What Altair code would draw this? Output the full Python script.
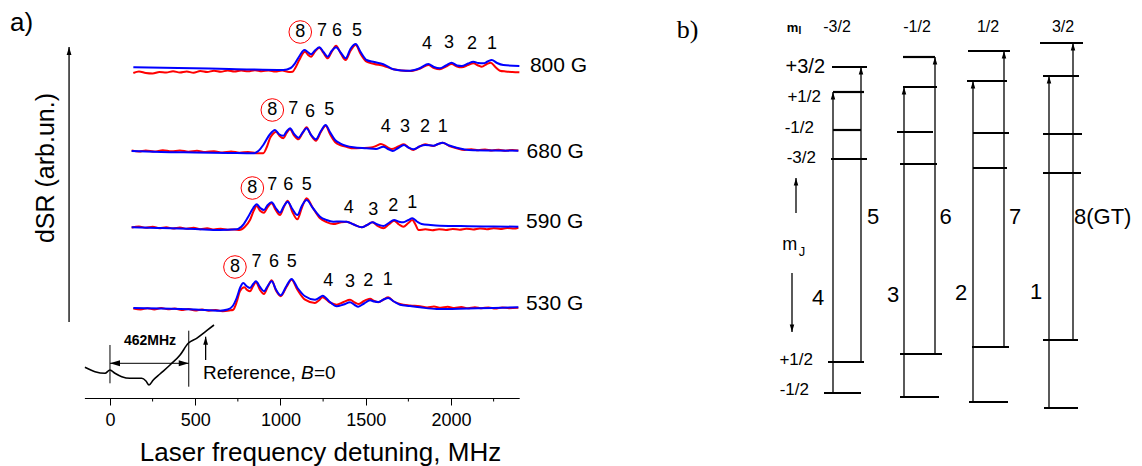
import altair as alt
import pandas as pd

FONT = "Liberation Sans"
SERIF = "Liberation Serif"
RED = "#ff0000"
BLUE = "#0000ff"

# ================= Panel a) : dSR spectra (x: detuning, MHz ; y: dSR, arb. units incl. vertical offset) =========
red_800 = [(137, 325), (170, 326.5), (210, 325), (250, 324.5), (290, 326), (330, 325.5), (370, 326.8), (410, 325.5),
           (450, 326.5), (490, 325.3), (530, 327), (570, 326), (610, 327.3), (650, 326.3), (690, 327.5), (730, 326.5),
           (770, 327.5), (810, 326.7), (850, 327.8), (890, 326.8), (930, 327.5), (970, 326.5), (1010, 327.5),
           (1050, 326), (1071, 326.3), (1090, 331), (1110, 338), (1144, 346.3), (1162, 343), (1179, 341.3),
           (1205, 347), (1228, 350.3), (1252, 345), (1277, 339.7), (1300, 346), (1326, 352.3), (1355, 344),
           (1382, 338), (1410, 347), (1441, 353), (1470, 344), (1505, 336.3), (1550, 334), (1603, 332.3),
           (1662, 328.7), (1710, 327.5), (1760, 327), (1820, 329.5), (1867, 333), (1900, 330), (1935, 328.7),
           (1970, 331.5), (2004, 334), (2035, 331.5), (2063, 330.7), (2100, 333), (2131, 334.7), (2160, 332.5),
           (2180, 331.3), (2210, 334), (2233, 335.3), (2260, 331), (2287, 327.3), (2320, 326.5), (2360, 326),
           (2401, 325.7)]
blue_800 = [(137, 330.7), (400, 330), (700, 329), (1017, 328), (1060, 330), (1085, 334.7), (1115, 343), (1140, 348),
            (1160, 346), (1179, 343.7), (1205, 348), (1228, 350.7), (1252, 346), (1277, 341.3), (1300, 347),
            (1326, 350.7), (1355, 345), (1382, 339.7), (1410, 349), (1441, 354), (1470, 346), (1505, 338),
            (1550, 336), (1603, 333.7), (1662, 328.7), (1710, 327.5), (1760, 327.3), (1820, 330), (1867, 334),
            (1900, 331), (1935, 329.7), (1970, 332.5), (2004, 335.3), (2035, 332.5), (2063, 332), (2100, 334.5),
            (2131, 336.3), (2160, 335), (2190, 334.7), (2215, 336.5), (2239, 338), (2270, 335), (2307, 333),
            (2401, 332)]

red_680 = [(127, 247.5), (170, 246.5), (210, 247.5), (260, 246.5), (310, 247.8), (360, 246.7), (410, 247.5),
           (460, 246.3), (510, 247.3), (560, 246), (610, 246.8), (660, 245.5), (710, 246.5), (760, 245.3),
           (810, 246), (860, 244.8), (899, 244.7), (920, 251), (938, 259.7), (955, 264), (974, 266.3), (995, 262),
           (1017, 259.7), (1036, 265), (1056, 268.7), (1080, 262.5), (1105, 258.7), (1130, 265), (1153, 270.7),
           (1180, 262.5), (1208, 257.3), (1237, 266), (1265, 272.3), (1290, 264), (1320, 256), (1349, 253),
           (1390, 251), (1427, 249.7), (1480, 250), (1530, 250.5), (1560, 252), (1589, 254), (1620, 251.5),
           (1652, 249), (1690, 251.5), (1724, 253.7), (1750, 250.5), (1779, 248), (1815, 251.5), (1848, 253.7),
           (1896, 252), (1925, 254), (1951, 255.3), (1990, 252), (2033, 249.7), (2080, 248), (2120, 248.8),
           (2160, 247.8), (2200, 248.5), (2240, 247.5), (2280, 248.3), (2320, 247.3), (2360, 248), (2395, 247.5)]
blue_680 = [(127, 247), (300, 246), (500, 245.5), (700, 245), (841, 244.7), (870, 247), (899, 253), (935, 263),
            (968, 268), (990, 264), (1017, 262.3), (1036, 266.5), (1056, 269.7), (1080, 264), (1105, 260.3),
            (1130, 265.5), (1153, 269.7), (1180, 263), (1208, 258.7), (1237, 267), (1265, 273), (1290, 266),
            (1320, 258), (1349, 254.7), (1427, 250.7), (1505, 249.7), (1560, 249), (1603, 251.3), (1630, 249),
            (1658, 247), (1690, 250), (1724, 253), (1750, 250.5), (1779, 248.7), (1815, 251.5), (1848, 253),
            (1896, 252.3), (1925, 254), (1951, 255.3), (1990, 252.5), (2033, 250.3), (2080, 248.5), (2131, 247.7),
            (2250, 247.5), (2395, 247.3)]

red_590 = [(127, 170.5), (170, 171.5), (210, 170.3), (250, 171.3), (290, 169.8), (330, 170.8), (370, 169.5),
           (410, 170.5), (450, 169.3), (490, 170.3), (530, 168.8), (570, 169.7), (610, 168.5), (650, 169.3),
           (690, 168.3), (730, 168.5), (760, 168), (790, 171), (821, 178), (845, 188), (860, 192), (882, 187),
           (903, 185.3), (925, 191), (948, 194.7), (972, 188), (997, 183), (1020, 191), (1042, 197.3), (1070, 186),
           (1099, 178.7), (1125, 190), (1153, 199.7), (1190, 190), (1232, 179.7), (1270, 176), (1310, 174),
           (1350, 175.5), (1388, 176.3), (1430, 173.5), (1476, 170.7), (1508, 173), (1539, 175.7), (1570, 172),
           (1603, 169.7), (1635, 173.5), (1666, 177.3), (1695, 173.5), (1720, 171.3), (1750, 175), (1773, 178),
           (1790, 174), (1810, 168), (1850, 168.7), (1890, 167.8), (1930, 168.8), (1970, 168), (2010, 169),
           (2050, 168.3), (2090, 169.3), (2130, 168.5), (2170, 169.5), (2210, 168.8), (2250, 169.8), (2290, 169),
           (2330, 170), (2370, 169.5), (2395, 170.3)]
blue_590 = [(127, 170.7), (300, 170), (500, 169), (645, 168), (743, 168.7), (780, 173), (811, 181.3), (840, 190),
            (860, 193.7), (882, 190), (903, 188), (925, 193), (948, 195.7), (972, 190), (997, 185.3), (1020, 192),
            (1042, 196.3), (1070, 189), (1099, 183), (1125, 192), (1153, 198), (1190, 190), (1232, 181.3),
            (1270, 178), (1310, 176.3), (1350, 176.5), (1388, 176.3), (1430, 173.5), (1476, 170.7), (1508, 173),
            (1539, 175.7), (1570, 173.5), (1603, 172), (1635, 175), (1666, 178), (1695, 176.3), (1720, 175.7),
            (1750, 178), (1773, 179.7), (1800, 176.5), (1828, 174), (1880, 173), (1935, 172.3), (2100, 171.8),
            (2250, 171.5), (2395, 171.3)]

red_530 = [(137, 89.5), (180, 88.5), (220, 89.8), (260, 88.5), (300, 90), (340, 88.7), (380, 89.5), (420, 88),
           (460, 89), (500, 87.5), (540, 88.5), (580, 87.3), (620, 88), (660, 86.8), (700, 87.5), (723, 88.3),
           (745, 97), (762, 106.7), (788, 110.7), (805, 108), (821, 106.7), (840, 112), (856, 115.7), (880, 108),
           (903, 104), (925, 111), (948, 117.7), (975, 107), (1001, 101.7), (1035, 111), (1065, 118.3), (1100, 108),
           (1144, 98.3), (1202, 95), (1225, 97.5), (1247, 100.7), (1290, 95.5), (1329, 93.3), (1370, 96),
           (1408, 98.3), (1435, 95.5), (1456, 94), (1490, 97), (1525, 99.3), (1550, 97), (1574, 95.7), (1605, 98.5),
           (1632, 100.7), (1665, 96.5), (1701, 94), (1760, 92.5), (1818, 91.7), (1860, 90.5), (1900, 91.5),
           (1940, 90.3), (1980, 91.3), (2020, 90), (2060, 91), (2100, 89.8), (2140, 90.8), (2180, 89.7),
           (2220, 90.6), (2260, 89.5), (2300, 90.5), (2340, 89.8), (2395, 90.2)]
blue_530 = [(137, 90), (300, 89.5), (500, 88.5), (645, 87.3), (690, 88.5), (720, 92), (743, 100), (765, 111),
            (782, 115), (800, 112), (821, 110), (840, 114), (856, 116.7), (880, 111), (903, 106.7), (925, 112),
            (948, 116.7), (975, 108), (1001, 102.7), (1035, 112), (1065, 119), (1100, 110), (1144, 101.7),
            (1202, 98.3), (1225, 100), (1247, 102.3), (1290, 96), (1329, 91.7), (1370, 93.5), (1408, 95.7),
            (1435, 93), (1456, 91.3), (1490, 94.5), (1525, 97.7), (1550, 96.5), (1574, 96), (1605, 98.5),
            (1632, 100), (1665, 96.5), (1701, 93.3), (1760, 92), (1818, 90.7), (1916, 89), (2100, 89.5),
            (2250, 90), (2395, 90.7)]

# zero-field reference (saturated-absorption) trace
reference = [(-147, 30.7), (-88, 26.3), (-29, 24.7), (0, 28), (29, 24.7), (69, 21.3), (117, 19.7), (186, 19.7),
             (211, 17), (229, 13), (254, 18), (293, 24), (352, 33), (411, 43), (459, 54.7), (508, 59.7),
             (567, 67.3), (610, 73)]

field_labels = ["800 G", "680 G", "590 G", "530 G"]
field_label_x = [2463, 2443, 2440, 2440]
field_label_y = [332.5, 246.5, 176.5, 94]

peak_names = ["8", "7", "6", "5", "4", "3", "2", "1"]
peak_x_800 = [1116, 1243, 1331, 1449, 1859, 1988, 2123, 2240]
peak_y_800 = [366, 367, 367, 367, 354, 355, 354, 354]
peak_x_680 = [952, 1075, 1173, 1286, 1617, 1730, 1848, 1951]
peak_y_680 = [288, 289, 286, 288, 271, 271, 271, 271]
peak_x_590 = [835, 952, 1046, 1154, 1400, 1544, 1662, 1773]
peak_y_590 = [210, 213, 213, 213, 190, 188, 192, 195]
peak_x_530 = [733, 860, 962, 1066, 1280, 1408, 1515, 1629]
peak_y_530 = [131, 136, 136, 136, 117, 116, 117, 118]

major_ticks = [0, 500, 1000, 1500, 2000]
minor_ticks = [250, 750, 1250, 1750, 2250]

# 462 MHz marker on the reference trace
marker_x = [0, 462]
marker_y0 = [14.7, 11.3]
marker_y1 = [53, 67.3]
marker_span_y = 34.7

# ================= Panel b) : level scheme (x: diagram position ; y: energy, arb. units) =================
upper_levels = [(52, 87, 353), (53, 84, 328), (53, 81, 290), (51, 87, 261),
                (123, 155, 363), (123, 157, 333), (117, 153, 288), (120, 157, 256),
                (188, 230, 369), (187, 227, 339), (193, 229, 287), (193, 227, 252),
                (260, 303, 377), (263, 299, 344), (263, 302, 286), (263, 301, 247)]
lower_levels = [(48, 84, 58), (44, 81, 27),
                (120, 162, 66), (120, 159, 23),
                (192, 229, 73), (189, 228, 18),
                (263, 298, 80), (264, 298, 12)]
trans_x = [53, 81, 124, 155, 193, 224, 269, 293]
trans_from = [27, 58, 23, 66, 18, 73, 12, 80]
trans_to = [328, 353, 333, 363, 339, 369, 344, 377]
trans_label = ["4", "5", "3", "6", "2", "7", "1", "8(GT)"]
trans_label_x = [38, 93, 113, 165.5, 181, 235, 256, 294]
trans_label_y = [122.5, 203, 125, 203, 127, 203, 128.5, 203]

mI_values = ["-3/2", "-1/2", "1/2", "3/2"]
mI_x = [57, 137, 208, 283]
mJ_upper = ["+3/2", "+1/2", "-1/2", "-3/2"]
mJ_upper_x = [45, 41, 34, 36]
mJ_upper_y = [353, 323, 292, 262]
mJ_upper_size = [20, 17, 17, 17]
mJ_lower = ["+1/2", "-1/2"]
mJ_lower_x = [33, 29]
mJ_lower_y = [60, 30]

# ---------------- layout of the two coordinate systems (plot-area pixels) ----------------
W, H = 1126, 458
A_XDOM, A_XRANGE = [-150, 2400], [76.4, 511.2]
A_YDOM, A_YRANGE = [0, 350], [390, 40]
B_XDOM, B_XRANGE = [0, 360], [772, 1132]
B_YDOM, B_YRANGE = [0, 400], [412, 12]


def XA(f="x", axis=None):
    return alt.X(f"{f}:Q", scale=alt.Scale(domain=A_XDOM, range=A_XRANGE, nice=False, zero=False), axis=axis)


def YA(f="y"):
    return alt.Y(f"{f}:Q", scale=alt.Scale(domain=A_YDOM, range=A_YRANGE, nice=False, zero=False), axis=None)


def XB(f="x"):
    return alt.X(f"{f}:Q", scale=alt.Scale(domain=B_XDOM, range=B_XRANGE, nice=False, zero=False), axis=None)


def YB(f="y"):
    return alt.Y(f"{f}:Q", scale=alt.Scale(domain=B_YDOM, range=B_YRANGE, nice=False, zero=False), axis=None)


UP = "M0,-1L0.6,1L-0.6,1Z"
DOWN = "M0,1L0.6,-1L-0.6,-1Z"
LEFT = "M-1,0L1,-0.6L1,0.6Z"
RIGHT = "M1,0L-1,-0.6L-1,0.6Z"

layers = []


def line_layer(pairs, color, width=2.0):
    df = pd.DataFrame(pairs, columns=["x", "y"])
    df["i"] = range(len(df))
    return alt.Chart(df).mark_line(color=color, strokeWidth=width, interpolate="monotone").encode(
        x=XA(), y=YA(), order="i:Q")


# x axis of panel a (carried by the minor-tick layer)
x_axis = alt.Axis(values=major_ticks, format="d", labelFont=FONT, labelFontSize=18, labelColor="black",
                  labelPadding=6, labelFlush=False, tickSize=7, tickColor="black", tickWidth=1,
                  domainColor="black", domainWidth=1, grid=False, offset=-68,
                  title="Laser frequency detuning, MHz", titleFont=FONT, titleFontSize=26,
                  titleFontWeight="normal", titleColor="black", titleX=312, titleY=62,
                  titleBaseline="alphabetic", titleAlign="center")
minor_df = pd.DataFrame({"x": minor_ticks, "y0": [0] * len(minor_ticks), "y1": [-3.5] * len(minor_ticks)})
layers.append(alt.Chart(minor_df).mark_rule(color="black", strokeWidth=1).encode(
    x=XA("x", axis=x_axis), y=YA("y0"), y2="y1:Q"))

# spectra: red first, blue on top
for pairs in [red_800, red_680, red_590, red_530]:
    layers.append(line_layer(pairs, RED))
for pairs in [blue_800, blue_680, blue_590, blue_530]:
    layers.append(line_layer(pairs, BLUE))

# reference trace and marker
layers.append(line_layer(reference, "black", 1.6))
mk = pd.DataFrame({"x": marker_x, "y0": marker_y0, "y1": marker_y1})
layers.append(alt.Chart(mk).mark_rule(color="black", strokeWidth=1).encode(x=XA(), y=YA("y0"), y2="y1:Q"))
span = pd.DataFrame({"x": [marker_x[0]], "x2": [marker_x[1]], "y": [marker_span_y]})
layers.append(alt.Chart(span).mark_rule(color="black", strokeWidth=1).encode(x=XA(), x2="x2:Q", y=YA()))
layers.append(alt.Chart(pd.DataFrame({"x": [marker_x[0]], "y": [marker_span_y]})).mark_point(
    shape=LEFT, size=100, filled=True, color="black", opacity=1, strokeWidth=0, xOffset=5).encode(x=XA(), y=YA()))
layers.append(alt.Chart(pd.DataFrame({"x": [marker_x[1]], "y": [marker_span_y]})).mark_point(
    shape=RIGHT, size=100, filled=True, color="black", opacity=1, strokeWidth=0, xOffset=-5).encode(x=XA(), y=YA()))

# vertical arrows of panel a: dSR axis arrow and "Reference" pointer
a_arrows = pd.DataFrame({"x": [-240, 561], "y0": [76, 38], "y1": [351, 61.3]})
layers.append(alt.Chart(a_arrows).mark_rule(color="black", strokeWidth=1.3).encode(x=XA(), y=YA("y0"), y2="y1:Q"))
layers.append(alt.Chart(a_arrows).mark_point(shape=UP, size=64, filled=True, color="black", opacity=1,
                                             strokeWidth=0, yOffset=4).encode(x=XA(), y=YA("y1")))

# circled "8" markers
circ = pd.DataFrame({"x": [peak_x_800[0], peak_x_680[0], peak_x_590[0], peak_x_530[0]],
                     "y": [peak_y_800[0], peak_y_680[0], peak_y_590[0], peak_y_530[0]]})
layers.append(alt.Chart(circ).mark_point(shape="circle", size=510, filled=False, color=RED, opacity=1,
                                         strokeWidth=1).encode(x=XA(), y=YA()))

# peak labels
rows = []
for xs, ys in [(peak_x_800, peak_y_800), (peak_x_680, peak_y_680), (peak_x_590, peak_y_590), (peak_x_530, peak_y_530)]:
    for t, x, y in zip(peak_names, xs, ys):
        rows.append({"x": x, "y": y, "t": t})
layers.append(alt.Chart(pd.DataFrame(rows)).mark_text(font=FONT, fontSize=18, color="black", align="center",
                                                      baseline="middle").encode(x=XA(), y=YA(), text="t:N"))

# field labels
fl = pd.DataFrame({"x": field_label_x, "y": field_label_y, "t": field_labels})
layers.append(alt.Chart(fl).mark_text(font=FONT, fontSize=21, color="black", align="left",
                                      baseline="middle").encode(x=XA(), y=YA(), text="t:N"))

# other panel-a texts
layers.append(alt.Chart(pd.DataFrame({"x": [234.6], "y": [57.3], "t": ["462MHz"]})).mark_text(
    font=FONT, fontSize=14, fontWeight="bold", color="black", align="center", baseline="middle").encode(
    x=XA(), y=YA(), text="t:N"))
ref_txt = pd.DataFrame({"x": [545, 1196], "y": [25, 25], "t": ["Reference,", "=0"]})
layers.append(alt.Chart(ref_txt).mark_text(font=FONT, fontSize=19, color="black", align="left",
                                           baseline="middle").encode(x=XA(), y=YA(), text="t:N"))
layers.append(alt.Chart(pd.DataFrame({"x": [1120], "y": [25], "t": ["B"]})).mark_text(
    font=FONT, fontSize=19, fontStyle="italic", color="black", align="left", baseline="middle").encode(
    x=XA(), y=YA(), text="t:N"))
layers.append(alt.Chart(pd.DataFrame({"x": [-375], "y": [230], "t": ["dSR (arb.un.)"]})).mark_text(
    font=FONT, fontSize=25, color="black", align="center", baseline="middle", angle=270).encode(
    x=XA(), y=YA(), text="t:N"))
layers.append(alt.Chart(pd.DataFrame({"x": [-518], "y": [375], "t": ["a)"]})).mark_text(
    font=FONT, fontSize=26, color="black", align="center", baseline="middle").encode(x=XA(), y=YA(), text="t:N"))

# ================= panel b layers =================
lv = pd.DataFrame(upper_levels + lower_levels, columns=["x", "x2", "y"])
layers.append(alt.Chart(lv).mark_rule(color="black", strokeWidth=2.2).encode(x=XB(), x2="x2:Q", y=YB()))
tr = pd.DataFrame({"x": trans_x, "y0": trans_from, "y1": trans_to})
layers.append(alt.Chart(tr).mark_rule(color="black", strokeWidth=1.3).encode(x=XB(), y=YB("y0"), y2="y1:Q"))
layers.append(alt.Chart(tr).mark_point(shape=UP, size=56, filled=True, color="black", opacity=1,
                                       strokeWidth=0, yOffset=3.7).encode(x=XB(), y=YB("y1")))

# m_J direction arrows
up_arrow = pd.DataFrame({"x": [16], "y0": [207], "y1": [242]})
dn_arrow = pd.DataFrame({"x": [12], "y0": [147], "y1": [88]})
layers.append(alt.Chart(up_arrow).mark_rule(color="black", strokeWidth=1.3).encode(x=XB(), y=YB("y0"), y2="y1:Q"))
layers.append(alt.Chart(dn_arrow).mark_rule(color="black", strokeWidth=1.3).encode(x=XB(), y=YB("y0"), y2="y1:Q"))
layers.append(alt.Chart(up_arrow).mark_point(shape=UP, size=56, filled=True, color="black", opacity=1,
                                             strokeWidth=0, yOffset=3.7).encode(x=XB(), y=YB("y1")))
layers.append(alt.Chart(dn_arrow).mark_point(shape=DOWN, size=56, filled=True, color="black", opacity=1,
                                             strokeWidth=0, yOffset=-3.7).encode(x=XB(), y=YB("y1")))

# transition labels
tl = pd.DataFrame({"x": trans_label_x, "y": trans_label_y, "t": trans_label})
layers.append(alt.Chart(tl[tl.t != "8(GT)"]).mark_text(font=FONT, fontSize=22, color="black", align="center",
                                                      baseline="middle").encode(x=XB(), y=YB(), text="t:N"))
layers.append(alt.Chart(tl[tl.t == "8(GT)"]).mark_text(font=FONT, fontSize=22, color="black", align="left",
                                                      baseline="middle").encode(x=XB(), y=YB(), text="t:N"))

# m_I header
mi = pd.DataFrame({"x": mI_x, "y": [393] * 4, "t": mI_values})
layers.append(alt.Chart(mi).mark_text(font=FONT, fontSize=16, color="black", align="center",
                                      baseline="middle").encode(x=XB(), y=YB(), text="t:N"))
layers.append(alt.Chart(pd.DataFrame({"x": [12.5], "y": [392], "t": ["m"]})).mark_text(
    font=FONT, fontSize=13, fontWeight="bold", color="black", align="center", baseline="middle").encode(
    x=XB(), y=YB(), text="t:N"))
layers.append(alt.Chart(pd.DataFrame({"x": [20], "y": [389], "t": ["I"]})).mark_text(
    font=FONT, fontSize=10, fontWeight="bold", color="black", align="center", baseline="middle").encode(
    x=XB(), y=YB(), text="t:N"))

# m_J labels
mju = pd.DataFrame({"x": mJ_upper_x + mJ_lower_x, "y": mJ_upper_y + mJ_lower_y,
                    "t": mJ_upper + mJ_lower, "s": mJ_upper_size + [17, 17]})
layers.append(alt.Chart(mju).mark_text(font=FONT, color="black", align="right", baseline="middle").encode(
    x=XB(), y=YB(), text="t:N", size=alt.Size("s:Q", scale=None)))
layers.append(alt.Chart(pd.DataFrame({"x": [9.7], "y": [175.5], "t": ["m"]})).mark_text(
    font=FONT, fontSize=18, color="black", align="center", baseline="middle").encode(x=XB(), y=YB(), text="t:N"))
layers.append(alt.Chart(pd.DataFrame({"x": [22], "y": [168], "t": ["J"]})).mark_text(
    font=FONT, fontSize=13, color="black", align="center", baseline="middle").encode(x=XB(), y=YB(), text="t:N"))

layers.append(alt.Chart(pd.DataFrame({"x": [-92.5], "y": [390], "t": ["b)"]})).mark_text(
    font=SERIF, fontSize=26, color="black", align="center", baseline="middle").encode(x=XB(), y=YB(), text="t:N"))

chart = alt.layer(*layers).resolve_scale(x="independent", y="independent").properties(
    width=W, height=H, autosize=alt.AutoSizeParams(type="none"), padding=0, background="white"
).configure_view(stroke=None)

chart.save("out.html", embed_options={"renderer": "svg", "actions": False})
